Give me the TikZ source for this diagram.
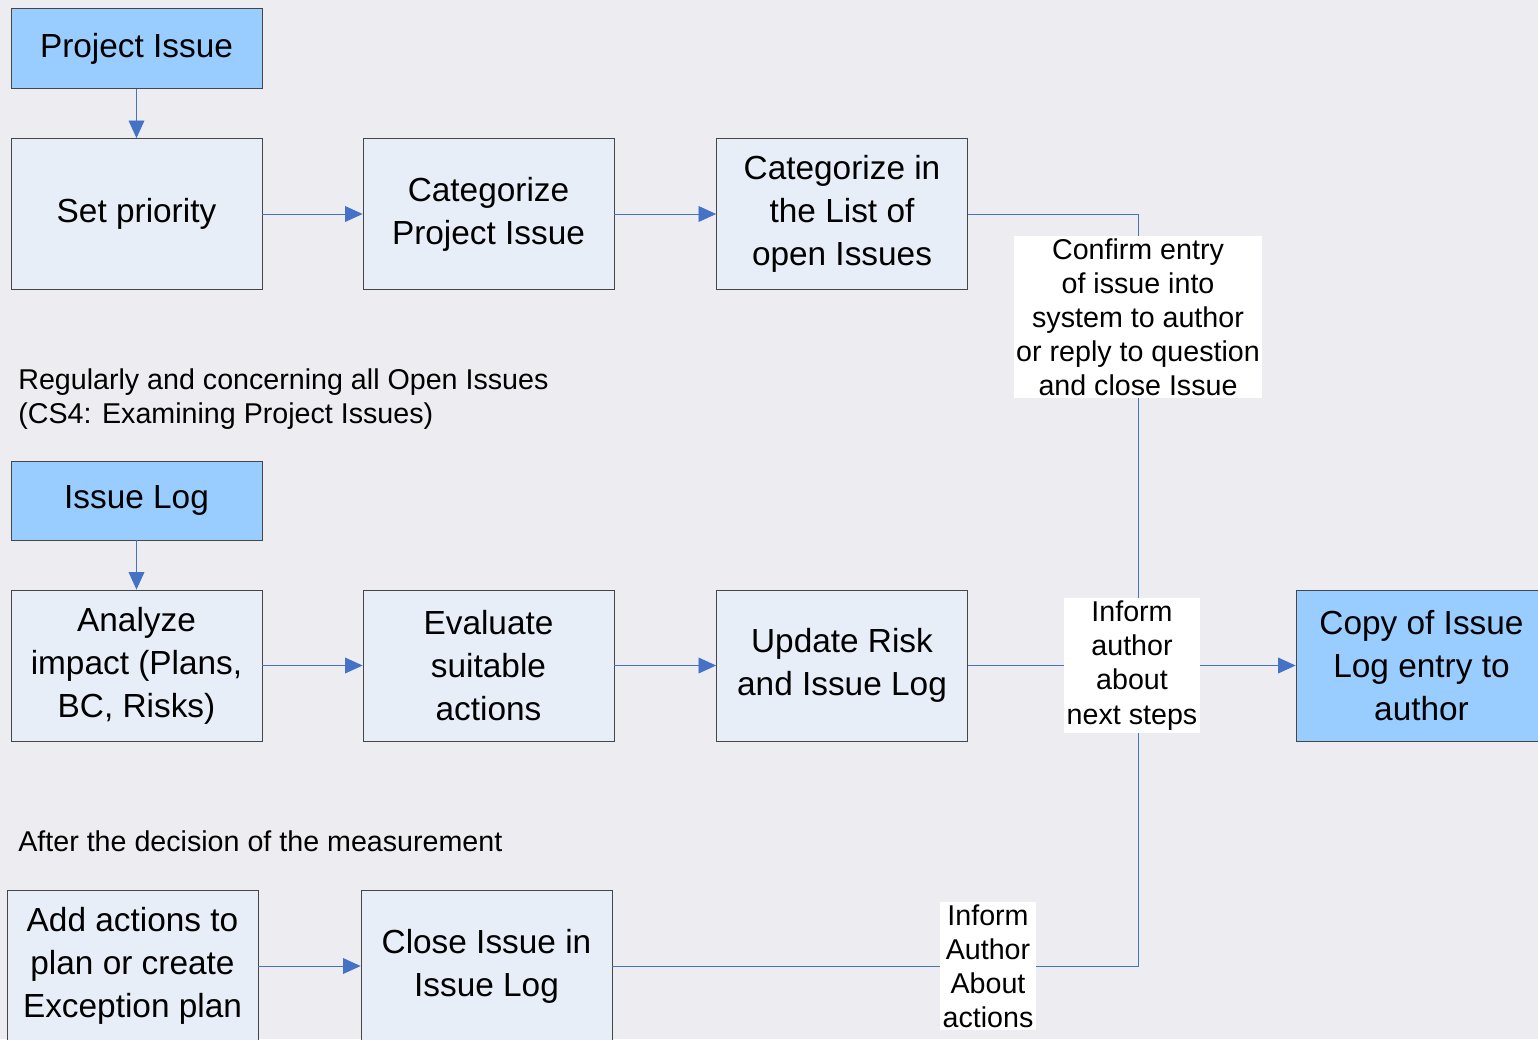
\documentclass[tikz,border=0pt]{standalone}
\usepackage{fontspec}
\setmainfont{Liberation Sans}
\usetikzlibrary{arrows.meta}
\definecolor{bggray}{RGB}{236,236,241}
\definecolor{boxpale}{RGB}{232,238,248}
\definecolor{boxblue}{RGB}{153,204,255}
\definecolor{linkblue}{RGB}{68,114,196}
\definecolor{rimgray}{RGB}{70,70,70}

\begin{document}
\begin{tikzpicture}[x=0.02cm,y=-0.02cm,
    stepbox/.style={draw=rimgray,line width=0.5pt,fill=boxpale,minimum width=5.02cm,minimum height=3.02cm,
      align=center,inner sep=2pt,font=\fontsize{19}{24.4}\selectfont},
    headbox/.style={stepbox,fill=boxblue,minimum height=1.6cm},
    notebox/.style={fill=white,align=center,inner sep=1.5pt,font=\fontsize{16.3}{19.4}\selectfont},
    link/.style={draw=linkblue,line width=0.5pt},
    >={Triangle[length=10pt,width=9pt]}]
        % Hintergrund
        \fill[bggray] (0,0) rectangle (1538,1039);
        \useasboundingbox (0,0) rectangle (1538,1039);

        % oberer Ablauf
        \node[headbox] (issue) at (136.5,48.5) {Project Issue};
        \node[stepbox] (prio) at (136.5,214) {Set priority};
        \node[stepbox] (cat) at (488.5,214) {Categorize\\Project Issue};
        \node[stepbox] (catlist) at (842,214) {Categorize in\\the List of\\open Issues};

        \node[anchor=west,inner sep=0pt,align=left,font=\fontsize{16.3}{19.4}\selectfont]
          (regular) at (18,399) {Regularly and concerning all Open Issues\\(CS4: Examining Project Issues)};

        % mittlerer Ablauf
        \node[headbox,minimum height=1.58cm] (log) at (136.5,500.5) {Issue Log};
        \node[stepbox] (analyze) at (136.5,665.5) {Analyze\\impact (Plans,\\BC, Risks)};
        \node[stepbox] (evaluate) at (488.5,665.5) {Evaluate\\suitable\\actions};
        \node[stepbox] (update) at (842,665.5) {Update Risk\\and Issue Log};
        \node[stepbox,fill=boxblue] (copy) at (1421.5,665.5) {Copy of Issue\\Log entry to\\author};

        \node[anchor=west,inner sep=0pt,font=\fontsize{16.3}{19.4}\selectfont]
          (after) at (18,841) {After the decision of the measurement};

        % unterer Ablauf
        \node[stepbox] (addact) at (132.5,966) {Add actions to\\plan or create\\Exception plan};
        \node[stepbox] (closeiss) at (486.5,966) {Close Issue in\\Issue Log};

        \coordinate (merge) at (1138,665.5);

        % Verbindungen
        \draw[link,->] (issue) -- (prio);
        \draw[link,->] (prio) -- (cat);
        \draw[link,->] (cat) -- (catlist);
        \draw[link,->] (log) -- (analyze);
        \draw[link,->] (analyze) -- (evaluate);
        \draw[link,->] (evaluate) -- (update);
        \draw[link,->] (update) -- (copy);
        \draw[link,->] (addact) -- (closeiss);
        \draw[link] (catlist.east) -| (merge);
        \draw[link] (closeiss.east) -| (merge);

        % Beschriftungen
        \node[notebox] (confirm) at (1138,317) {Confirm entry\\of issue into\\system to author\\or reply to question\\and close Issue};
        \node[notebox] (informnext) at (1132,665.5) {Inform\\author\\about\\next steps};
        \node[notebox] (informact) at (988,966) {Inform\\Author\\About\\actions};
      \end{tikzpicture}
\end{document}
